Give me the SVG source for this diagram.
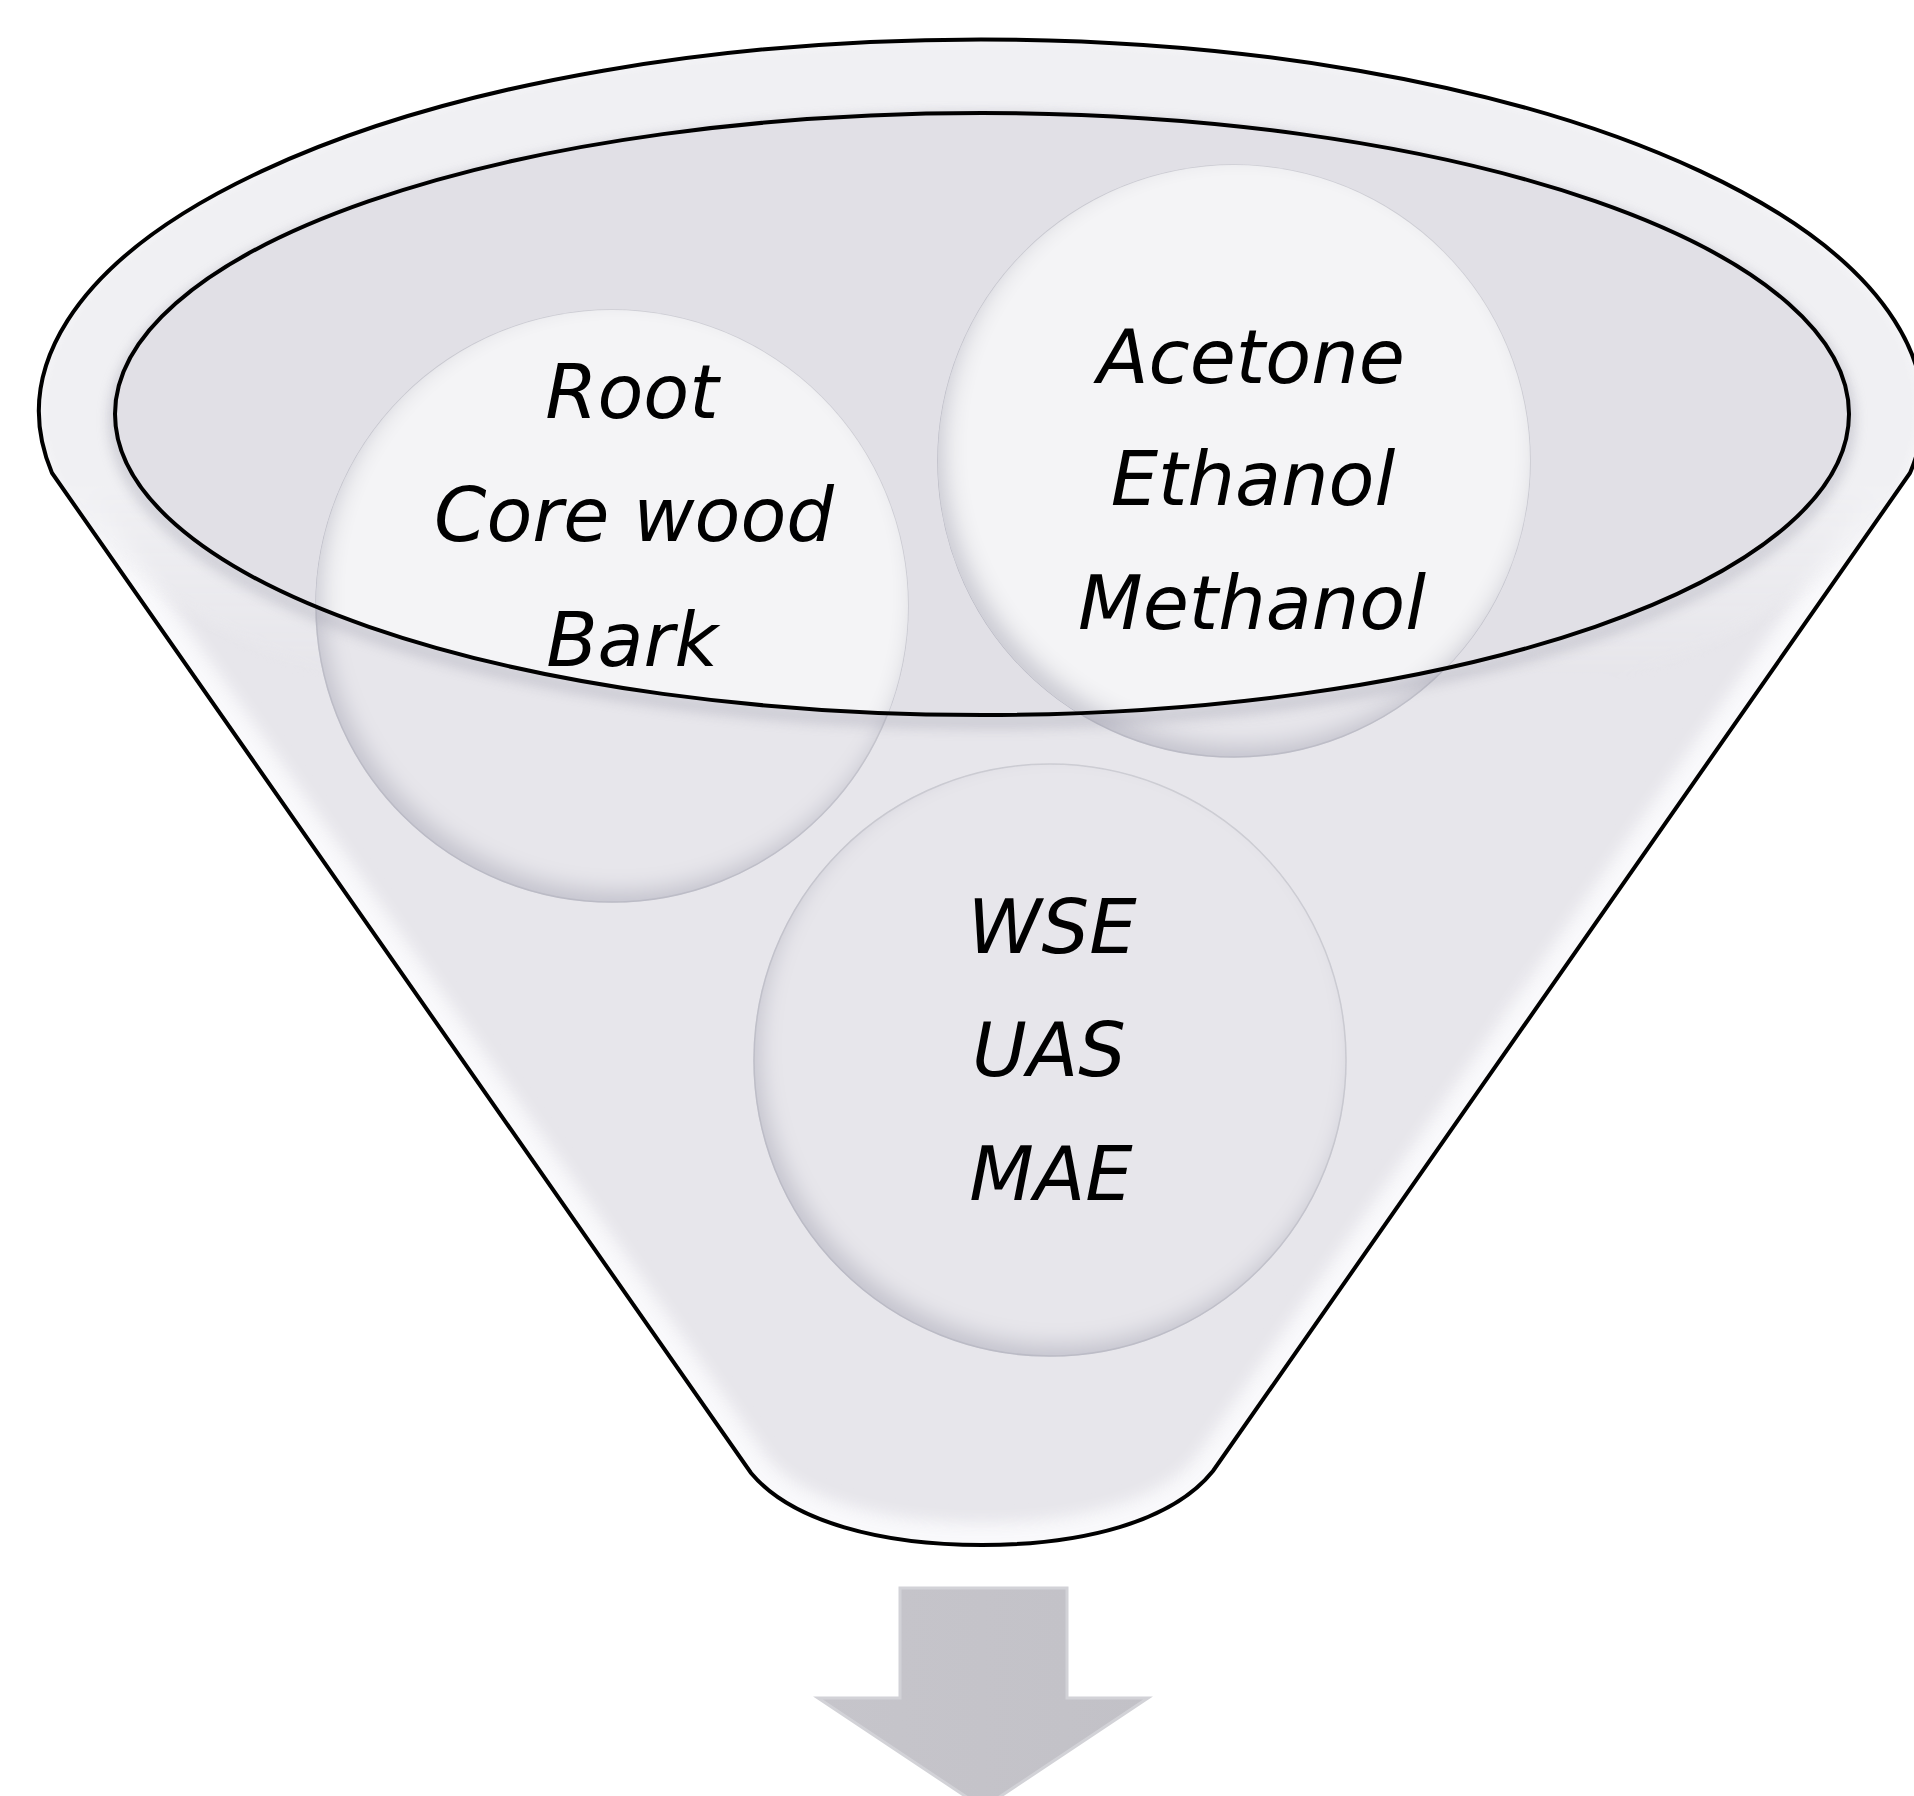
<svg xmlns="http://www.w3.org/2000/svg" width="1914" height="1796" viewBox="0 0 1914 1796">
  <style>
    .lbl { font-family: "DejaVu Sans", Verdana, sans-serif; font-style: italic; font-size: 75px; fill: #000; text-anchor: middle; }
    .outline { fill: none; stroke: #000; stroke-width: 4; }
    .circ-base { fill: #e7e6eb; stroke: #cfcfd5; stroke-width: 1.5; }
    .circ-light { fill: #f4f4f6; }
  </style>
  <defs>
    <clipPath id="funnelClip">
      <path d="M52,473 A942,372 0 1 1 1910,473 L1213,1471 C1172,1522 1082,1545 982,1545 C882,1545 792,1522 751,1473 Z"/>
    </clipPath>
    <clipPath id="ellClip">
      <ellipse cx="982" cy="414" rx="867" ry="301"/>
    </clipPath>
    <mask id="outsideEll" maskUnits="userSpaceOnUse" x="0" y="0" width="1914" height="1796">
      <rect x="0" y="0" width="1914" height="1796" fill="#fff"/>
      <ellipse cx="982" cy="414" rx="867" ry="301" fill="#000"/>
    </mask>
    <filter id="blur8" x="-5%" y="-5%" width="110%" height="110%">
      <feGaussianBlur stdDeviation="8"/>
    </filter>
    <filter id="blur6" x="-5%" y="-5%" width="110%" height="110%">
      <feGaussianBlur stdDeviation="6"/>
    </filter>
    <filter id="inset" x="-10%" y="-10%" width="120%" height="120%">
      <feComponentTransfer in="SourceAlpha" result="inv">
        <feFuncA type="table" tableValues="1 0"/>
      </feComponentTransfer>
      <feOffset in="inv" dx="7" dy="-12" result="off"/>
      <feGaussianBlur in="off" stdDeviation="11" result="blur"/>
      <feFlood flood-color="#a6a6b6" flood-opacity="0.6"/>
      <feComposite operator="in" in2="blur"/>
      <feComposite operator="in" in2="SourceAlpha" result="shadow"/>
      <feMerge>
        <feMergeNode in="SourceGraphic"/>
        <feMergeNode in="shadow"/>
      </feMerge>
    </filter>
    <linearGradient id="rimMaskGrad" x1="0" y1="0" x2="0" y2="800" gradientUnits="userSpaceOnUse">
      <stop offset="0.6" stop-color="#fff"/>
      <stop offset="0.85" stop-color="#000"/>
    </linearGradient>
    <mask id="rimMask" maskUnits="userSpaceOnUse" x="0" y="0" width="1914" height="900">
      <rect x="0" y="0" width="1914" height="900" fill="url(#rimMaskGrad)"/>
    </mask>
    <linearGradient id="arrowGrad" x1="0" y1="0" x2="1" y2="0">
      <stop offset="0" stop-color="#c6c5cb"/>
      <stop offset="1" stop-color="#c2c1c7"/>
    </linearGradient>
  </defs>

  <rect x="0" y="0" width="1914" height="1796" fill="#ffffff"/>

  <g id="funnel">
    <path d="M52,473 A942,372 0 1 1 1910,473 L1213,1471 C1172,1522 1082,1545 982,1545 C882,1545 792,1522 751,1473 Z" fill="#e7e6eb"/>
    <g clip-path="url(#funnelClip)">
      <path d="M52,473 A942,372 0 1 1 1910,473 L1213,1471 C1172,1522 1082,1545 982,1545 C882,1545 792,1522 751,1473 Z" fill="none" stroke="#fbfbfd" stroke-width="44" filter="url(#blur8)" opacity="0.9"/>
      <g mask="url(#rimMask)">
        <path d="M38,410 A942,372 0 1 1 1922,410 A942,372 0 1 1 38,410 Z M115,414 A867,301 0 1 0 1849,414 A867,301 0 1 0 115,414 Z" fill="#f0f0f3" fill-rule="evenodd" filter="url(#blur6)"/>
      </g>
    </g>
    <ellipse cx="982" cy="414" rx="867" ry="301" fill="#e1e0e6"/>
  </g>

  <g id="node-material">
    <circle class="circ-base" cx="612" cy="606" r="296" filter="url(#inset)"/>
    <circle class="circ-light" cx="612" cy="606" r="296" filter="url(#inset)" clip-path="url(#ellClip)"/>
  </g>
  <g id="node-solvent">
    <circle class="circ-base" cx="1234" cy="461" r="296" filter="url(#inset)"/>
    <circle class="circ-light" cx="1234" cy="461" r="296" filter="url(#inset)" clip-path="url(#ellClip)"/>
  </g>
  <g id="node-method">
    <circle class="circ-base" cx="1050" cy="1060" r="296" filter="url(#inset)"/>
  </g>

  <g id="funnel-lines">
    <g mask="url(#outsideEll)">
      <ellipse cx="982" cy="421" rx="867" ry="301" fill="none" stroke="#9c9cab" stroke-width="14" opacity="0.35" filter="url(#blur6)"/>
    </g>
    <ellipse class="outline" cx="982" cy="414" rx="867" ry="301"/>
    <path class="outline" d="M52,473 A942,372 0 1 1 1910,473 L1213,1471 C1172,1522 1082,1545 982,1545 C882,1545 792,1522 751,1473 Z"/>
  </g>

  <g id="labels-material">
    <text class="lbl" x="632" y="418">Root</text>
    <text class="lbl" x="634" y="541">Core wood</text>
    <text class="lbl" x="632" y="666">Bark</text>
  </g>
  <g id="labels-solvent">
    <text class="lbl" x="1251" y="383">Acetone</text>
    <text class="lbl" x="1253" y="505">Ethanol</text>
    <text class="lbl" x="1252" y="629">Methanol</text>
  </g>
  <g id="labels-method">
    <text class="lbl" x="1052" y="953">WSE</text>
    <text class="lbl" x="1049" y="1076">UAS</text>
    <text class="lbl" x="1051" y="1200">MAE</text>
  </g>

  <g id="connectors">
    <path id="arrow" d="M900,1588 L1067,1588 L1067,1698 L1148,1698 L983,1808 L818,1698 L900,1698 Z" fill="url(#arrowGrad)" stroke="#d2d2d7" stroke-width="3" stroke-linejoin="miter"/>
  </g>
</svg>
